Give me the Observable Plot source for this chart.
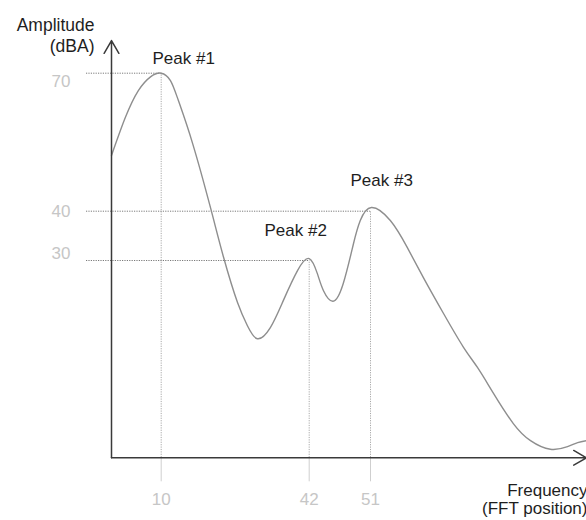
<!DOCTYPE html>
<html>
<head>
<meta charset="utf-8">
<script src="https://cdn.jsdelivr.net/npm/d3@7"></script>
<script src="https://cdn.jsdelivr.net/npm/@observablehq/plot@0.6"></script>
<style>
  html, body { margin: 0; padding: 0; background: #fff; }
  #chart svg { display: block; }
</style>
</head>
<body>
<div id="chart"></div>
<script>
// ---- data ----
const freqTicks = [10, 42, 51];
const ampTicks = [30, 40, 70];

const peakNames = ["Peak #1", "Peak #2", "Peak #3"];
const peakFreq = [10, 42, 51];
const peakAmp = [70, 30, 40];

const curveFreq = [0, 2.8, 5.4, 7.85, 10, 12.0, 13.7, 16.8, 20.7, 23.5, 26.5, 28.7, 30.8, 33.6, 36.4, 39.5, 42, 43.2, 44.1, 45.5, 47.0, 48.5, 49.5, 51.2, 55.5, 59.3, 63.0, 67.6, 72.1, 75.3, 78.9, 83.4, 87.3, 91.8, 95.7, 98.0, 100];
const curveAmp  = [52.1, 60.4, 66.2, 69.2, 70, 68.4, 64.1, 54.7, 40.6, 30.6, 23.6, 20.0, 18.1, 19.8, 23.9, 28.5, 30.4, 28.0, 25.4, 23.8, 26.5, 33.4, 38.1, 40.8, 38.1, 32.7, 27.4, 21.9, 16.8, 13.7, 9.8, 5.2, 2.6, 1.3, 1.7, 2.3, 2.6];

const xBreaks = [0, 10, 42, 51, 100];   // schematic (piecewise) frequency axis
const yBreaks = [0, 30, 40, 70];        // schematic (piecewise) amplitude axis
const xMax = 100;
const yMax = 77.1;

const yLabel = "Amplitude\n(dBA)";
const xLabel = "Frequency\n(FFT position)";

// ---- tables built from the arrays ----
const curve = curveFreq.map((f, i) => ({freq: f, amp: curveAmp[i]}));
const peaks = peakNames.map((n, i) => ({name: n, freq: peakFreq[i], amp: peakAmp[i]}));

const font = "Liberation Sans, Arial, sans-serif";
const tickGray = "#c6c6c6";
const yTickShift = [-7.3, 0, 8.3];   // label nudges as drawn in the reference (30, 40, 70)

const chart = Plot.plot({
  width: 586,
  height: 520,
  marginLeft: 111,
  marginRight: 0,
  marginTop: 0,
  marginBottom: 62.7,
  style: {fontFamily: font, background: "#fff", overflow: "visible"},
  x: {type: "linear", domain: xBreaks, range: [111, 160.7, 308.7, 370, 586], axis: null},
  y: {type: "linear", domain: yBreaks, range: [457.3, 260, 210.7, 72.7], axis: null},
  marks: [
    // x tick labels and light ticks below the axis
    Plot.axisX({ticks: freqTicks, label: null, tickSize: 24, tickPadding: 11, fontSize: 17, color: tickGray, stroke: "#cfcfcf"}),
    // y tick labels
    ...ampTicks.map((t, i) => Plot.axisY({ticks: [t], label: null, tickSize: 0, tickPadding: 41, fontSize: 17, color: tickGray, dy: yTickShift[i]})),
    // vertical dotted guides from each peak to the axis
    Plot.ruleX(peaks, {x: "freq", y1: 0, y2: "amp", stroke: "#a8a8a8", strokeWidth: 1, strokeDasharray: "1.2,1.2"}),
    // horizontal dotted guides
    Plot.ruleY(peaks, {y: "amp", x1: 0, x2: "freq", insetLeft: -25, stroke: "#7a7a7a", strokeWidth: 1, strokeDasharray: "1.2,1.2"}),
    // the spectrum curve
    Plot.line(curve, {x: "freq", y: "amp", curve: "natural", stroke: "#8e8e8e", strokeWidth: 1.4}),
    // axes with arrow heads
    Plot.arrow([0], {x1: 0, y1: 0, x2: 0, y2: yMax, stroke: "#3a3a3a", strokeWidth: 1.5, headLength: 14.75, headAngle: 60}),
    Plot.arrow([0], {x1: 0, y1: 0, x2: xMax, y2: 0, stroke: "#3a3a3a", strokeWidth: 1.5, headLength: 14.75, headAngle: 60}),
    // peak labels
    Plot.text(peaks.slice(0, 1), {x: "freq", y: "amp", text: "name", textAnchor: "start", lineAnchor: "bottom", dx: -8.7, dy: -9.4, fontSize: 17, fill: "#1e1e1e"}),
    Plot.text(peaks.slice(1, 2), {x: "freq", y: "amp", text: "name", textAnchor: "start", lineAnchor: "bottom", dx: -44.7, dy: -25, fontSize: 17, fill: "#1e1e1e"}),
    Plot.text(peaks.slice(2, 3), {x: "freq", y: "amp", text: "name", textAnchor: "start", lineAnchor: "bottom", dx: -20, dy: -25, fontSize: 17, fill: "#1e1e1e"}),
    // axis titles
    Plot.text([yLabel], {frameAnchor: "top-left", text: d => d, textAnchor: "end", lineAnchor: "top", dx: -17, dy: 15.4, lineHeight: 1.2, fontSize: 17.5, fill: "#1e1e1e"}),
    Plot.text([xLabel], {frameAnchor: "bottom-right", text: d => d, textAnchor: "end", lineAnchor: "top", dx: 1, dy: 25.6, lineHeight: 1.05, fontSize: 17, fill: "#1e1e1e"})
  ]
});

document.getElementById("chart").appendChild(chart);
</script>
</body>
</html>
